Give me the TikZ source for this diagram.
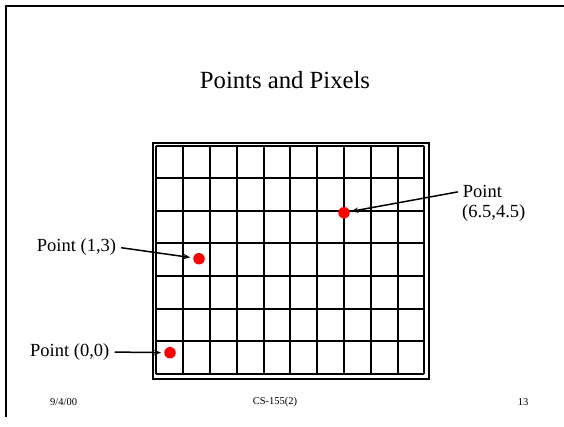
\documentclass[tikz,border=0pt]{standalone}
\usepackage{fontspec}
\setmainfont{Liberation Serif}
\usetikzlibrary{arrows.meta}
\begin{document}
\begin{tikzpicture}[x=1pt,y=-1pt,
  frameline/.style={line width=2pt},
  gridline/.style={line width=2pt},
  lbl/.style={inner sep=0pt, anchor=west, font=\fontsize{18.5}{22}\selectfont},
  foot/.style={inner sep=0pt, font=\fontsize{10.5}{12}\selectfont},
  pix/.style={circle, fill=red, draw=none, inner sep=0pt, minimum size=11.5pt},
  arr/.style={line width=1.5pt, -{Stealth[length=7pt,width=5.5pt]}, shorten >=3pt, shorten <=5pt}]
\useasboundingbox (0,0) rectangle (564,426);
% slide frame
\draw[frameline] (5.7,417) -- (5.7,5.7) -- (566,5.7);
% title
\node[inner sep=0pt, anchor=base, font=\fontsize{24.7}{30}\selectfont] (title) at (285,88.3) {Points and Pixels};
% outer frame
\draw[gridline] (152.5,142.5) rectangle (429,378.5);
% grid
\foreach \k in {0,...,10} {
  \draw[gridline] ({156.3+26.8*\k},145.7) -- ({156.3+26.8*\k},373.7);
}
\foreach \j in {0,...,7} {
  \draw[gridline] (156.3,{145.7+32.57*\j}) -- (424.3,{145.7+32.57*\j});
}
% pixels / points
\node[pix] (d00) at (170,352.7) {};
\node[pix] (d13) at (199,258.7) {};
\node[pix] (d65) at (344,212.7) {};
% labels
\node[lbl] (l00) at (30,352) {Point (0,0)};
\node[lbl] (l13) at (36.7,247) {Point (1,3)};
\node[lbl] (l65a) at (462.7,191) {Point};
\node[lbl] (l65b) at (462,213.5) {(6.5,4.5)};
% arrows
\draw[arr] (l00.east) -- (d00);
\draw[arr] (l13.east) -- (d13);
\draw[arr, shorten >=1.5pt] (l65a.west) -- (d65);
% footer
\node[foot, anchor=west] (date) at (50,402) {9/4/00};
\node[foot] (course) at (275,402) {CS-155(2)};
\node[foot] (page) at (523,402) {13};
\end{tikzpicture}
\end{document}
